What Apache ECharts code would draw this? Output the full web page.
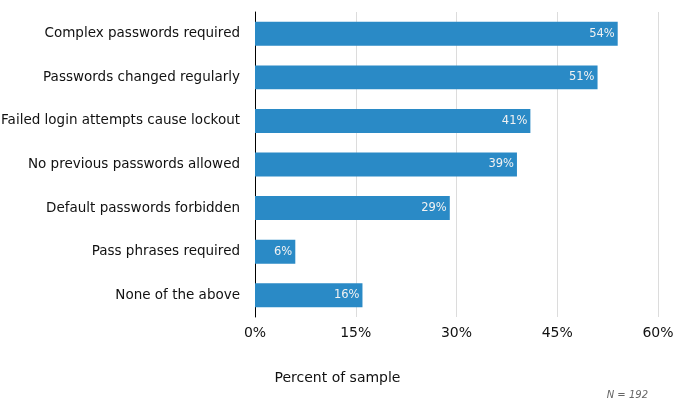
<!DOCTYPE html>
<html><head><meta charset="utf-8">
<script src="https://cdn.jsdelivr.net/npm/echarts@6/dist/echarts.min.js"></script>
<style>html,body{margin:0;padding:0;background:#fff}#c{width:675px;height:419px}</style>
</head><body><div id="c"></div>
<script>
const categories = ["Complex passwords required","Passwords changed regularly","Failed login attempts cause lockout","No previous passwords allowed","Default passwords forbidden","Pass phrases required","None of the above"];
const values = [54, 51, 41, 39, 29, 6, 16];
const xTicks = [0, 15, 30, 45, 60];
const axisTitle = "Percent of sample";
const note = "N = 192";

const chart = echarts.init(document.getElementById('c'), null, {renderer:'canvas'});
const font = 'DejaVu Sans, Verdana, sans-serif';
chart.setOption({
  animation:false,
  textStyle:{fontFamily:font},
  grid:{left:255,right:17,top:12,bottom:102,containLabel:false,outerBoundsMode:'none'},
  xAxis:{type:'value',min:xTicks[0],max:xTicks[xTicks.length-1],interval:15,
    axisLine:{show:false},axisTick:{show:false},
    splitLine:{show:true,lineStyle:{color:'#dcdcdc',width:1}},
    axisLabel:{formatter:'{value}%',color:'#111',fontSize:14,margin:9,fontFamily:font}},
  yAxis:{type:'category',data:categories,inverse:true,
    axisLine:{show:true,lineStyle:{color:'#000',width:1}},axisTick:{show:false},
    axisLabel:{color:'#111',fontSize:13.5,margin:15,fontFamily:font}},
  series:[{type:'bar',data:values,barWidth:'55%',
    itemStyle:{color:'#2a8ac6'},
    label:{show:true,position:'insideRight',formatter:'{c}%',color:'#f2f2f2',fontSize:11.5,distance:3,fontFamily:font}}],
  graphic:[
    {type:'text',left:'center',top:371,style:{text:axisTitle,font:'14px '+font,fill:'#111'}},
    {type:'text',right:27,top:390,style:{text:note,font:'italic 10px '+font,fill:'#666'}}
  ]
});
</script></body></html>
